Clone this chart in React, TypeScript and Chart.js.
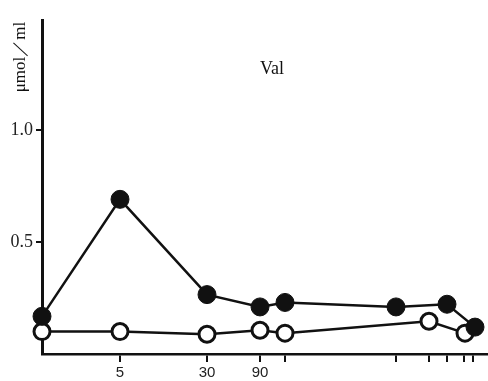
import React, { useEffect, useRef } from "react";
import { Chart, registerables } from "chart.js";

Chart.register(...registerables);

// Positions along the (non-uniform) time axis, in axis units
const tickPositions = [78, 165, 218, 243, 354, 387, 405, 422, 431];
const tickLabels = ["5", "30", "90", "", "", "", "", "", ""];

const filledX = [0, 78, 165, 218, 243, 354, 405, 433];
const filledY = [0.168, 0.69, 0.265, 0.21, 0.23, 0.21, 0.222, 0.12];

const openX = [0, 78, 165, 218, 243, 387, 423];
const openY = [0.1, 0.1, 0.088, 0.106, 0.093, 0.146, 0.093];

const yTicks = [0.5, 1.0];
const yTickLabels = ["0.5", "1.0"];

const titleText = "Val";
const yAxisLabel = "μmol／ml";

export default function App() {
  const ref = useRef<HTMLCanvasElement | null>(null);
  useEffect(() => {
    document.body.style.margin = "0";
    const canvas = ref.current!;
    const textPlugin = {
      id: "texts",
      afterDraw(chart: any) {
        const ctx = chart.ctx;
        const xs = chart.scales.x;
        const ys = chart.scales.y;
        ctx.save();
        ctx.fillStyle = "#111";
        ctx.font = "18px 'Liberation Serif'";
        ctx.textAlign = "center";
        ctx.textBaseline = "middle";
        ctx.fillText(titleText, xs.getPixelForValue(230), ys.getPixelForValue(1.27));
        ctx.translate(21, 57);
        ctx.rotate(-Math.PI / 2);
        ctx.font = "17px 'Liberation Serif'";
        ctx.fillText(yAxisLabel, 0, 0);
        ctx.restore();
      },
    };
    const chart = new Chart(canvas, {
      type: "line",
      data: {
        datasets: [
          {
            data: filledX.map((x, i) => ({ x, y: filledY[i] })),
            borderColor: "#111",
            backgroundColor: "#111",
            pointBackgroundColor: "#111",
            pointBorderColor: "#111",
            pointRadius: 9,
            pointBorderWidth: 1,
            borderWidth: 2.5,
            clip: false as any,
          },
          {
            data: openX.map((x, i) => ({ x, y: openY[i] })),
            borderColor: "#111",
            backgroundColor: "#fff",
            pointBackgroundColor: "#fff",
            pointBorderColor: "#111",
            pointRadius: 8,
            pointBorderWidth: 3,
            borderWidth: 2.5,
            clip: false as any,
          },
        ],
      },
      options: {
        animation: false,
        responsive: false,
        layout: { autoPadding: false, padding: { top: 20, right: 0, left: 0, bottom: 0 } },
        plugins: { legend: { display: false }, tooltip: { enabled: false } },
        scales: {
          x: {
            type: "linear",
            min: 0,
            max: 446,
            afterBuildTicks(scale: any) {
              scale.ticks = tickPositions.map((v) => ({ value: v }));
            },
            afterFit(scale: any) {
              scale.height = 27;
            },
            ticks: {
              autoSkip: false,
              maxRotation: 0,
              color: "#222",
              padding: 2,
              font: { family: "'Liberation Sans'", size: 15 },
              callback: (v: any) => {
                const i = tickPositions.indexOf(v);
                return i >= 0 ? tickLabels[i] : "";
              },
            },
            grid: { drawOnChartArea: false, tickLength: 8, color: "#111", lineWidth: 2 },
            border: { color: "#111", width: 2.5 },
          },
          y: {
            type: "linear",
            min: 0,
            max: 1.49,
            afterBuildTicks(scale: any) {
              scale.ticks = yTicks.map((v) => ({ value: v }));
            },
            afterFit(scale: any) {
              scale.width = 42;
            },
            ticks: {
              color: "#222",
              padding: 3,
              font: { family: "'Liberation Serif'", size: 18 },
              callback: (v: any) => {
                const i = yTicks.indexOf(v);
                return i >= 0 ? yTickLabels[i] : "";
              },
            },
            grid: { drawOnChartArea: false, tickLength: 6, color: "#111", lineWidth: 2 },
            border: { color: "#111", width: 3 },
          },
        },
      },
      plugins: [textPlugin],
    } as any);
    return () => chart.destroy();
  }, []);
  return <canvas ref={ref} width={488} height={381} style={{ display: "block" }} />;
}
